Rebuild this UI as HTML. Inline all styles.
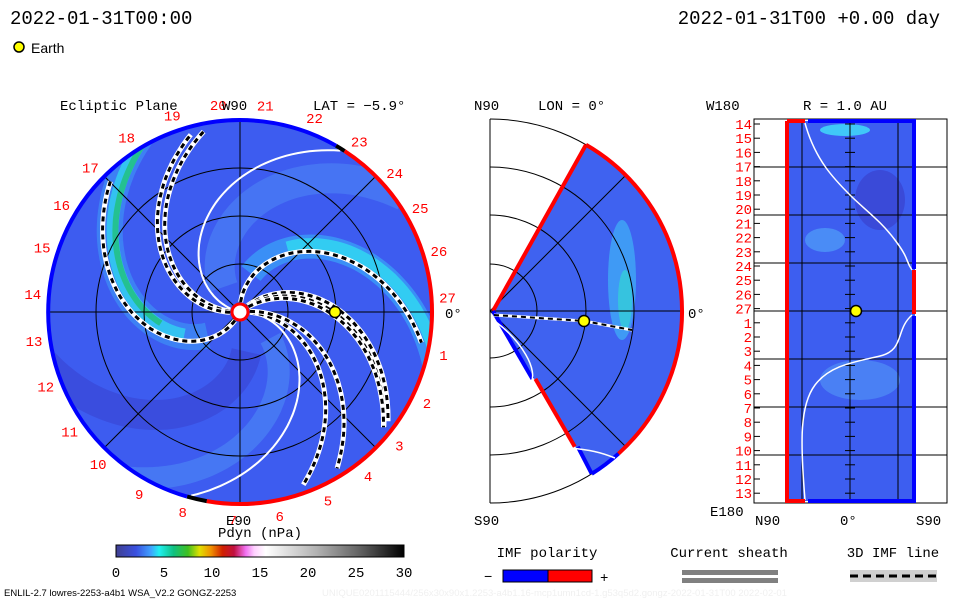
<!DOCTYPE html>
<html><head><meta charset="utf-8"><style>
body{margin:0;background:#fff;}
svg{display:block;font-family:"Liberation Mono","DejaVu Sans Mono",monospace;}
</style></head><body>
<svg id="fig" width="960" height="600" viewBox="0 0 960 600">
<defs>
<linearGradient id="cb" x1="0" x2="1">
<stop offset="0" stop-color="#404090"/><stop offset="0.07" stop-color="#3a50e0"/><stop offset="0.12" stop-color="#40a0ff"/>
<stop offset="0.15" stop-color="#20f0f0"/><stop offset="0.2" stop-color="#10c080"/><stop offset="0.25" stop-color="#40c020"/>
<stop offset="0.29" stop-color="#e0e000"/><stop offset="0.33" stop-color="#f09000"/><stop offset="0.37" stop-color="#d02000"/>
<stop offset="0.41" stop-color="#c01040"/><stop offset="0.45" stop-color="#f070f0"/><stop offset="0.48" stop-color="#ffd0ff"/>
<stop offset="0.52" stop-color="#ffffff"/><stop offset="0.7" stop-color="#b0b0b0"/><stop offset="0.85" stop-color="#606060"/><stop offset="1" stop-color="#000"/>
</linearGradient>
<clipPath id="eclip"><circle cx="240" cy="312" r="192"/></clipPath>
</defs>
<text x="10" y="24" font-size="19">2022-01-31T00:00</text>
<text x="940" y="24" font-size="19" text-anchor="end">2022-01-31T00 +0.00 day</text>
<circle cx="19" cy="47" r="5" fill="#ff0" stroke="#000" stroke-width="1.5"/>
<text x="31" y="53" font-size="14" font-family="Liberation Sans,sans-serif">Earth</text>

<g id="ecl">
<circle cx="240" cy="312" r="192" fill="#3d5cf0"/>
<g clip-path="url(#eclip)" id="eclBands"></g>
<g id="eclGrid" stroke="#000" stroke-width="1" fill="none"></g>
<g id="eclLines"></g>
<g id="eclRim"></g>
<g id="eclLabels" font-size="14" fill="#f00" text-anchor="middle"></g>
<circle cx="240" cy="312" r="8" fill="#fff" stroke="#f00" stroke-width="3"/>
<circle cx="335" cy="312" r="5.5" fill="#ff0" stroke="#000" stroke-width="1.5"/>
<text x="60" y="110" font-size="14">Ecliptic Plane</text>
<text x="222" y="110" font-size="14">W90</text>
<text x="313" y="110" font-size="14">LAT = −5.9°</text>
<text x="445" y="318" font-size="14">0°</text>
<text x="226" y="525" font-size="14">E90</text>
</g>

<g id="mer">
<path d="M490 119 V503" stroke="#000" fill="none"/>
<path id="wedge"/>
<ellipse cx="622" cy="280" rx="14" ry="60" fill="#40c0f8" fill-opacity="0.6"/>
<ellipse cx="625" cy="300" rx="7" ry="30" fill="#30e0d0" fill-opacity="0.6"/>
<g id="merGrid" stroke="#000" fill="none" stroke-width="1"></g>
<g id="merEdges"></g>
<path d="M494 315 L584 321 L632 330" stroke="#fff" stroke-width="3" fill="none"/>
<path d="M494 315 L584 321 L632 330" stroke="#000" stroke-width="2" fill="none" stroke-dasharray="5 4"/>
<path d="M496 322 C520 340,540 370,530 385" stroke="#fff" stroke-width="1.5" fill="none"/>
<path d="M570 448 C590 450,600 452,615 458" stroke="#fff" stroke-width="1.5" fill="none"/>
<text x="474" y="110" font-size="14">N90</text>
<text x="538" y="110" font-size="14">LON = 0°</text>
<text x="474" y="525" font-size="14">S90</text>
<text x="688" y="318" font-size="14">0°</text>
<circle cx="584" cy="321" r="5.5" fill="#ff0" stroke="#000" stroke-width="1.5"/>
</g>

<g id="rp">
<rect x="754" y="119" width="193" height="384" fill="#fff" stroke="#000"/>
<rect x="785" y="121" width="130" height="380" fill="#3d5ef0"/>
<ellipse cx="825" cy="240" rx="20" ry="12" fill="#4a8cf6"/>
<ellipse cx="880" cy="200" rx="25" ry="30" fill="#3a4ad8"/>
<ellipse cx="860" cy="380" rx="40" ry="20" fill="#4a80f4"/>
<ellipse cx="845" cy="130" rx="25" ry="6" fill="#40c8f8"/>
<g id="rpGrid" stroke="#000" stroke-width="1"></g>
<path d="M805 123 C815 160,835 180,850 195 S880 220,895 240 S905 260,912 270" stroke="#fff" fill="none" stroke-width="1.5"/>
<path d="M912 315 C895 330,905 350,880 356 S830 365,815 385 S800 440,805 500" stroke="#fff" fill="none" stroke-width="1.5"/>
<path d="M787 121 V501 H805" stroke="#f00" stroke-width="4" fill="none"/>
<path d="M787 121 H805" stroke="#f00" stroke-width="4"/>
<path d="M808 121 H914 V269" stroke="#00f" stroke-width="4" fill="none"/>
<path d="M914 270 V314" stroke="#f00" stroke-width="4"/>
<path d="M914 316 V501 H808" stroke="#00f" stroke-width="4" fill="none"/>
<g id="rpLabels" font-size="14" fill="#f00" text-anchor="end"></g>
<circle cx="856" cy="311" r="5.5" fill="#ff0" stroke="#000" stroke-width="1.5"/>
<text x="706" y="110" font-size="14">W180</text>
<text x="803" y="110" font-size="14">R = 1.0 AU</text>
<text x="710" y="516" font-size="14">E180</text>
<text x="755" y="525" font-size="14">N90</text>
<text x="840" y="525" font-size="14">0°</text>
<text x="916" y="525" font-size="14">S90</text>
</g>

<g id="cbar">
<text x="260" y="537" font-size="14" text-anchor="middle">Pdyn (nPa)</text>
<rect x="116" y="545" width="288" height="12" fill="url(#cb)" stroke="#000"/>
<g id="cbTicks" font-size="14" text-anchor="middle"></g>
</g>

<text x="547" y="557" font-size="14" text-anchor="middle">IMF polarity</text>
<text x="484" y="581" font-size="14">−</text>
<rect x="503" y="570" width="45" height="12" fill="#00f" stroke="#000"/>
<rect x="548" y="570" width="44" height="12" fill="#f00" stroke="#000"/>
<text x="600" y="582" font-size="14">+</text>
<text x="729" y="557" font-size="14" text-anchor="middle">Current sheath</text>
<rect x="682" y="570" width="96" height="5" fill="#808080"/>
<rect x="682" y="578" width="96" height="5" fill="#808080"/>
<text x="893" y="557" font-size="14" text-anchor="middle">3D IMF line</text>
<rect x="850" y="570" width="87" height="12" fill="#d0d0d0"/>
<line x1="850" y1="576" x2="937" y2="576" stroke="#000" stroke-width="3" stroke-dasharray="8 5"/>
<text x="4" y="596" font-size="9.5" font-family="Liberation Sans,sans-serif">ENLIL-2.7 lowres-2253-a4b1 WSA_V2.2 GONGZ-2253</text>
<text x="322" y="596" font-size="9.5" fill="#f0f0f0" font-family="Liberation Sans,sans-serif">UNIQUE0201115444/256x30x90x1.2253-a4b1.16-mcp1umn1cd-1.g53q5d2.gongz-2022-01-31T00   2022-02-01</text>
</svg>
<script>
const dayLabels=[27,1,2,3,4,5,6,7,8,9,10,11,12,13,14,15,16,17,18,19,20,21,22,23,24,25,26];
const dayAngles=[4,-12,-26,-40,-52,-65,-79,-92,-106,-119,-133,-145,-159,-172,175,162,149,136,123,109,96,83,69,55,42,30,17];
const rimFrom=[60,57,-100,-106];
const rimTo=[57,-100,-106,-300];
const rimColor=['#000','#f00','#000','#00f'];
const spiralStarts=[180,186,245,92,45,40,36,2,7];
const spiralSweep=[82,84,115,106,85,82,78,75,68];
const spiralKinds=['dash','dash','dash','dash','dash','dash','dash','dash','dash'];
const sheetStarts=[2,166];
const sheetSweep=[108,109];
const cbTicks=[0,5,10,15,20,25,30];
const rpLabels=[14,15,16,17,18,19,20,21,22,23,24,25,26,27,1,2,3,4,5,6,7,8,9,10,11,12,13];
const NS='http://www.w3.org/2000/svg';
const cx=240,cy=312,R=192;
function mk(tag,attrs,parent){const e=document.createElementNS(NS,tag);for(const k in attrs)e.setAttribute(k,attrs[k]);parent.appendChild(e);return e;}
function pt(r,deg){const a=deg*Math.PI/180;return [cx+r*Math.cos(a),cy-r*Math.sin(a)];}
function spiral(s,sw,r0,r1){let d='';for(let r=r0;r<=r1;r+=3){const p=pt(r,s-sw*r/R);d+=(d?'L':'M')+p[0].toFixed(1)+' '+p[1].toFixed(1);}return d;}
// bands
const bands=document.getElementById('eclBands');
[[240,115,40,'#3d8cf6',26],[238,115,60,'#30d8f0',12],[236,115,80,'#20c070',6],[96,106,40,'#3aa0f8',24],[98,106,80,'#30e0f0',12],[140,100,30,'#4a7cf4',30],[-20,100,40,'#4a80f4',22],[300,100,40,'#3a48d8',30]].forEach(b=>{
 const e=mk('path',{d:spiral(b[0],b[1],b[2],R+10),stroke:b[3],'stroke-width':b[4],fill:'none','stroke-opacity':0.75},bands);
 
 
});
// grid
const g=document.getElementById('eclGrid');
[48,96,144].forEach(r=>{const c=mk('circle',{cx:cx,cy:cy,r:r},g);});
[0,45,90,135].forEach(a=>{const p1=pt(R,a),p2=pt(R,a+180);const l=mk('line',{x1:p1[0],y1:p1[1],x2:p2[0],y2:p2[1]},g);});
// sheets and spirals
const L=document.getElementById('eclLines');
sheetStarts.forEach((s,i)=>{const a=mk('path',{d:spiral(s,sheetSweep[i],10,R-2),stroke:'#fff','stroke-width':2,fill:'none'},L);});
spiralStarts.forEach((s,i)=>{
 const d=spiral(s,spiralSweep[i],10,R-6);
 const a=mk('path',{d:d,stroke:'#fff','stroke-width':5,fill:'none'},L);
 const b=mk('path',{d:d,stroke:'#000','stroke-width':3,fill:'none','stroke-dasharray':'5 4'},L);
});
// rim
const rim=document.getElementById('eclRim');
rimFrom.forEach((f,i)=>{const t=rimTo[i];const p1=pt(R,f),p2=pt(R,t);const large=Math.abs(f-t)>180?1:0;
 const e=mk('path',{d:`M${p1[0].toFixed(1)} ${p1[1].toFixed(1)} A${R} ${R} 0 ${large} 1 ${p2[0].toFixed(1)} ${p2[1].toFixed(1)}`,stroke:rimColor[i],'stroke-width':4,fill:'none'},rim);
 });
// day labels
const lab=document.getElementById('eclLabels');
dayLabels.forEach((d,i)=>{const p=pt(R+16,dayAngles[i]);const t=mk('text',{x:p[0].toFixed(1),y:(p[1]+5).toFixed(1)},lab);t.textContent=d;});
// meridional
const mx=490,my=311;
function mp(r,deg){const a=deg*Math.PI/180;return [mx+r*Math.cos(a),my-r*Math.sin(a)];}
const mg=document.getElementById('merGrid');
[47,96,144,192].forEach(r=>{const a=mp(r,90),b=mp(r,-90);const e=mk('path',{d:`M${a[0]} ${a[1]} A${r} ${r} 0 0 1 ${b[0]} ${b[1]}`},mg);});
[45,0,-45].forEach(a=>{const p=mp(192,a);const e=mk('line',{x1:mx,y1:my,x2:p[0],y2:p[1]},mg);});
const w1=mp(192,60),w2=mp(192,-58);
const wedge=document.getElementById('wedge');
wedge.setAttribute('d',`M${mx+3} ${my} L${w1[0]} ${w1[1]} A192 192 0 0 1 ${w2[0]} ${w2[1]} Z`);
wedge.setAttribute('fill','#3f62f0');
const me=document.getElementById('merEdges');
function seg(r0,r1,ang,col){const a=mp(r0,ang),b=mp(r1,ang);const e=mk('line',{x1:a[0]+3,y1:a[1],x2:b[0],y2:b[1],stroke:col,'stroke-width':4},me);}
seg(0,192,60,'#f00');
seg(0,80,-58,'#00f');seg(80,160,-58,'#f00');seg(160,192,-58,'#00f');
const rimA=mp(192,60),rimB=mp(192,-48),rimC=mp(192,-58);
const rr=mk('path',{d:`M${rimA[0]} ${rimA[1]} A192 192 0 0 1 ${rimB[0]} ${rimB[1]}`,stroke:'#f00','stroke-width':4,fill:'none'},me);
const rb=mk('path',{d:`M${rimB[0]} ${rimB[1]} A192 192 0 0 1 ${rimC[0]} ${rimC[1]}`,stroke:'#00f','stroke-width':4,fill:'none'},me);
// right panel grid
const rg=document.getElementById('rpGrid');
[167,215,263,311,359,407,455].forEach(y=>{const e=mk('line',{x1:754,y1:y,x2:947,y2:y},rg);});
[802,850,898].forEach(x=>{const e=mk('line',{x1:x,y1:121,x2:x,y2:501},rg);});
const rl=document.getElementById('rpLabels');
rpLabels.forEach((d,i)=>{const y=124+i*14.2;const t=mk('text',{x:752,y:(y+5).toFixed(1)},rl);t.textContent=d;
 const tk=mk('line',{x1:754,y1:y,x2:760,y2:y,stroke:'#000'},rg);
 const tk2=mk('line',{x1:845,y1:y,x2:855,y2:y,stroke:'#000'},rg);});
// colorbar ticks
const ct=document.getElementById('cbTicks');
cbTicks.forEach(v=>{const x=116+288*v/30;const t=mk('text',{x:x,y:577},ct);t.textContent=v;});
</script>
</body></html>
